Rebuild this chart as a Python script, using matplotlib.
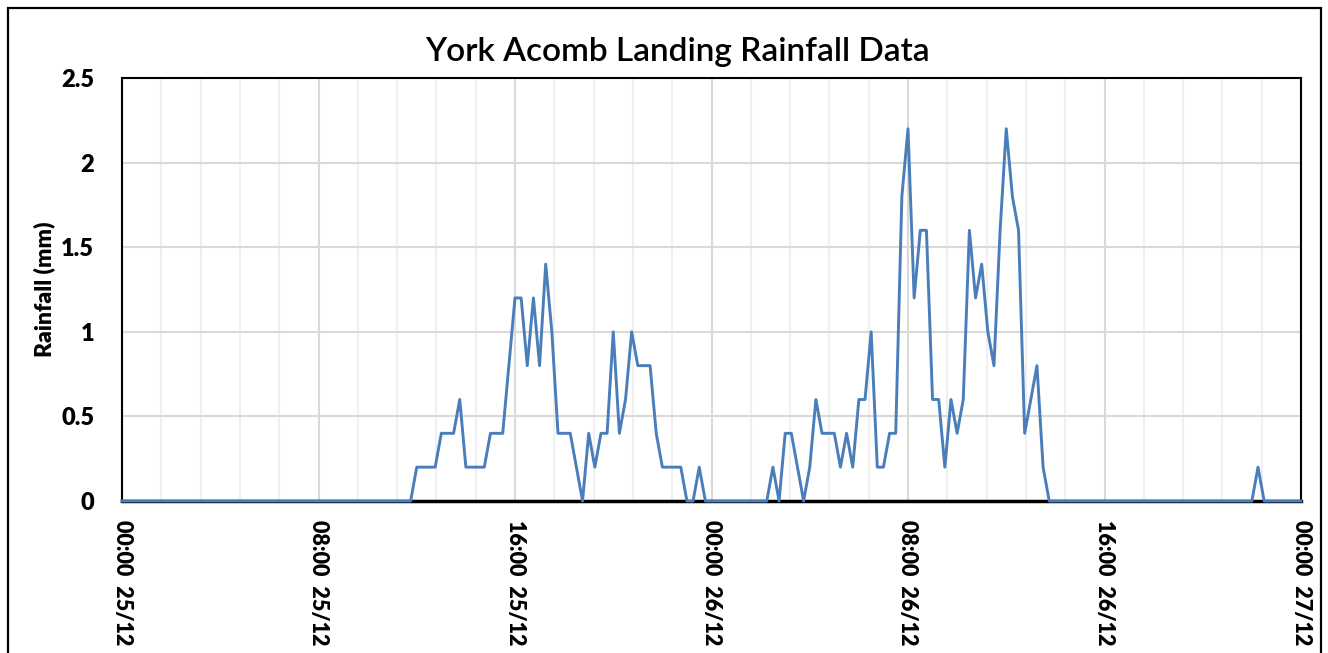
import numpy as np
import matplotlib
matplotlib.use('Agg')
import matplotlib.pyplot as plt
from matplotlib.patches import Rectangle

# 15-minute rainfall readings, 00:00 25/12 to 00:00 27/12 (one row per hour)
rainfall = [
    0, 0, 0, 0,  0, 0, 0, 0,  0, 0, 0, 0,  0, 0, 0, 0,
    0, 0, 0, 0,  0, 0, 0, 0,  0, 0, 0, 0,  0, 0, 0, 0,
    0, 0, 0, 0,  0, 0, 0, 0,  0, 0, 0, 0,  0, 0, 0, 0,
    0.2, 0.2, 0.2, 0.2,
    0.4, 0.4, 0.4, 0.6,
    0.2, 0.2, 0.2, 0.2,
    0.4, 0.4, 0.4, 0.8,
    1.2, 1.2, 0.8, 1.2,
    0.8, 1.4, 1.0, 0.4,
    0.4, 0.4, 0.2, 0.0,
    0.4, 0.2, 0.4, 0.4,
    1.0, 0.4, 0.6, 1.0,
    0.8, 0.8, 0.8, 0.4,
    0.2, 0.2, 0.2, 0.2,
    0.0, 0.0, 0.2, 0.0,
    0, 0, 0, 0,
    0, 0, 0, 0,
    0, 0, 0.2, 0,
    0.4, 0.4, 0.2, 0,
    0.2, 0.6, 0.4, 0.4,
    0.4, 0.2, 0.4, 0.2,
    0.6, 0.6, 1.0, 0.2,
    0.2, 0.4, 0.4, 1.8,
    2.2, 1.2, 1.6, 1.6,
    0.6, 0.6, 0.2, 0.6,
    0.4, 0.6, 1.6, 1.2,
    1.4, 1.0, 0.8, 1.6,
    2.2, 1.8, 1.6, 0.4,
    0.6, 0.8, 0.2, 0.0,
    0, 0, 0, 0,  0, 0, 0, 0,  0, 0, 0, 0,  0, 0, 0, 0,
    0, 0, 0, 0,  0, 0, 0, 0,  0, 0, 0, 0,  0, 0, 0, 0,
    0, 0.2, 0, 0,
    0, 0, 0, 0,
    0,
]
hours = np.arange(len(rainfall)) * 0.25

tick_hours = [0, 8, 16, 24, 32, 40, 48]
tick_labels = ['00:00  25/12', '08:00  25/12', '16:00  25/12', '00:00  26/12',
               '08:00  26/12', '16:00  26/12', '00:00  27/12']
y_ticks = [0, 0.5, 1, 1.5, 2, 2.5]
y_labels = ['0', '0.5', '1', '1.5', '2', '2.5']

plt.rcParams['font.family'] = ['Lato', 'DejaVu Sans']

fig = plt.figure(figsize=(13.28, 6.53), dpi=100)
ax = fig.add_axes([122 / 1328, 1 - 501 / 653, (1301 - 122) / 1328, (501 - 78) / 653])

# outer chart frame (bottom runs off the image)
fig.patches.append(Rectangle((8 / 1328, -0.1), (1321 - 8) / 1328, 1 - 8 / 653 + 0.1,
                             transform=fig.transFigure, fill=False, edgecolor='black',
                             linewidth=1.6))

ax.plot(hours, rainfall, color='#4A7EBB', linewidth=2.1, zorder=3, clip_on=False)

ax.set_xlim(0, 48)
ax.set_ylim(0, 2.5)
ax.set_xticks(tick_hours)
ax.set_xticklabels(tick_labels, rotation=-90, fontsize=15.5, fontweight='heavy')
ax.set_xticks(np.arange(0, 48.01, 1.6), minor=True)
ax.set_yticks(y_ticks)
ax.set_yticklabels(y_labels, fontsize=17, fontweight='heavy')
ax.tick_params(axis='both', which='both', length=0)
ax.tick_params(axis='x', pad=14)
ax.tick_params(axis='y', pad=20)

ax.grid(axis='x', which='minor', color='#F0F0F0', linewidth=1.5, zorder=0)
ax.grid(axis='x', which='major', color='#D9D9D9', linewidth=1.5, zorder=0)
ax.grid(axis='y', which='major', color='#D9D9D9', linewidth=1.5, zorder=0)

for side in ['left', 'top', 'right']:
    ax.spines[side].set_linewidth(1.5)
ax.spines['bottom'].set_linewidth(2.5)

ax.set_ylabel('Rainfall (mm)', fontsize=16.5, fontweight='heavy', labelpad=4)
fig.text(677 / 1328, 1 - 52 / 653, 'York Acomb Landing Rainfall Data',
         ha='center', va='center', fontsize=24, fontweight='semibold')

plt.savefig('out.png', dpi=100)
